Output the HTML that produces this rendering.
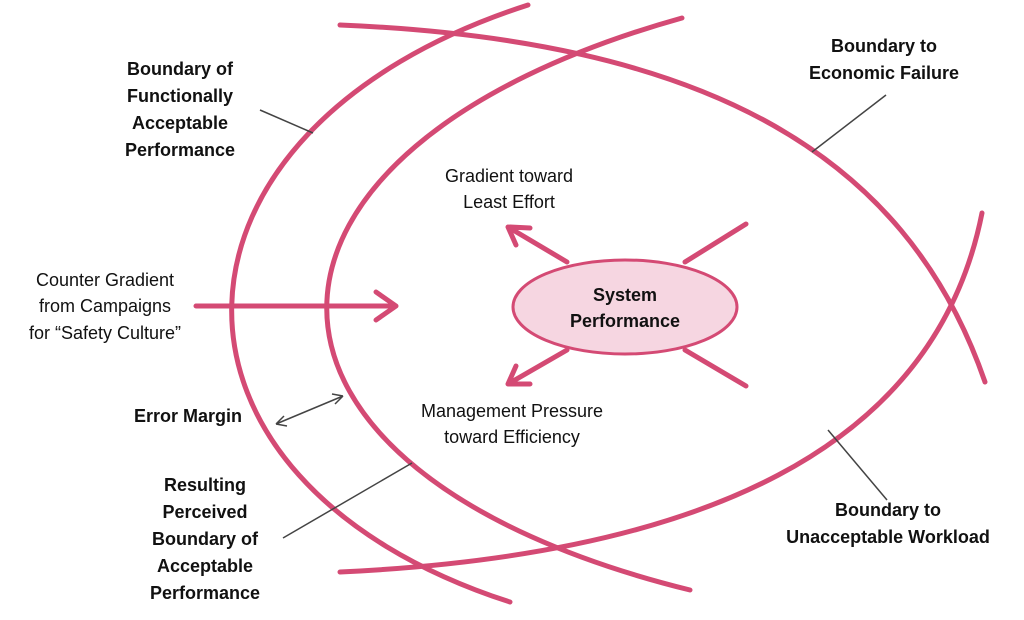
<!DOCTYPE html>
<html><head><meta charset="utf-8"><style>
body{margin:0;background:#fff;}
svg{display:block;}
text{font-family:"Liberation Sans",sans-serif;font-size:18px;fill:#111;}
.b{font-weight:bold;}
</style></head><body>
<svg width="1024" height="620" viewBox="0 0 1024 620">
<g fill="none" stroke="#d44a74" stroke-width="5" stroke-linecap="round" stroke-linejoin="round">
<path d="M528,5 C140,130 132,480 510,602"/>
<path d="M682,18 C210,150 204,470 690,590"/>
<path d="M340,25 C700,40 905,150 985,382"/>
<path d="M340,572 C700,555 935,450 982,213"/>
<path d="M196,306 L396,306 M376,292 L396,306 L376,320"/>
<path d="M567,262 L508,227 M510,227 L530,228 M508,227 L516,245"/>
<path d="M567,350 L508,384 M508,384 L530,384 M508,384 L516,366"/>
<path d="M685,262 L746,224"/>
<path d="M685,350 L746,386"/>
</g>
<ellipse cx="625" cy="307" rx="112" ry="47" fill="#f6d6e1" stroke="#d44a74" stroke-width="3"/>
<g stroke="#444" stroke-width="1.5" fill="none">
<path d="M260,110 L313,133"/>
<path d="M886,95 L812,152"/>
<path d="M828,430 L887,500"/>
<path d="M283,538 L412,463"/>
<path d="M276,424 L343,396 M276,424 L284,416 M276,424 L287,426 M343,396 L332,394 M343,396 L335,404"/>
</g>
<g text-anchor="middle">
<text class="b" x="625" y="301">System</text>
<text class="b" x="625" y="327">Performance</text>
<text x="509" y="182">Gradient toward</text>
<text x="509" y="208">Least Effort</text>
<text x="512" y="417">Management Pressure</text>
<text x="512" y="443">toward Efficiency</text>
<text x="105" y="286">Counter Gradient</text>
<text x="105" y="312">from Campaigns</text>
<text x="105" y="339">for “Safety Culture”</text>
<text class="b" x="180" y="75">Boundary of</text>
<text class="b" x="180" y="102">Functionally</text>
<text class="b" x="180" y="129">Acceptable</text>
<text class="b" x="180" y="156">Performance</text>
<text class="b" x="884" y="52">Boundary to</text>
<text class="b" x="884" y="79">Economic Failure</text>
<text class="b" x="188" y="422">Error Margin</text>
<text class="b" x="205" y="491">Resulting</text>
<text class="b" x="205" y="518">Perceived</text>
<text class="b" x="205" y="545">Boundary of</text>
<text class="b" x="205" y="572">Acceptable</text>
<text class="b" x="205" y="599">Performance</text>
<text class="b" x="888" y="516">Boundary to</text>
<text class="b" x="888" y="543">Unacceptable Workload</text>
</g>
</svg>
</body></html>
